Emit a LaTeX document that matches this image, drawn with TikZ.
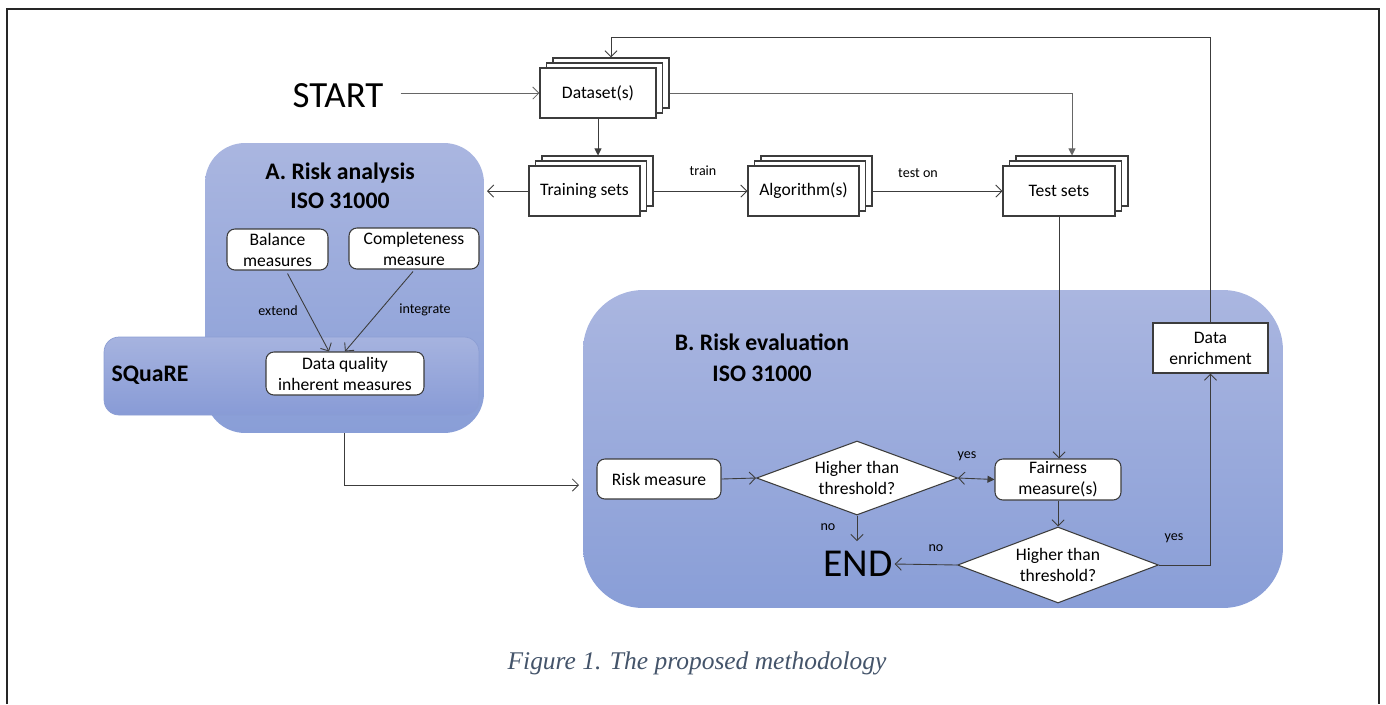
\documentclass[tikz,border=0pt]{standalone}
\usepackage{fontspec}
\setmainfont{Carlito}
\newfontfamily\capfont{Liberation Serif}
\usetikzlibrary{arrows.meta,shapes.geometric,calc}
\definecolor{regtop}{RGB}{170,182,224}
\definecolor{regbot}{RGB}{137,158,215}
\definecolor{sqtop}{RGB}{166,179,223}
\definecolor{sqbot}{RGB}{136,155,214}
\definecolor{capcol}{RGB}{68,84,106}
\definecolor{linecol}{RGB}{60,60,60}
\pgfdeclarelayer{bg}
\pgfdeclarelayer{edges}
\pgfsetlayers{bg,edges,main}
\tikzset{
  txt/.style={font=\fontsize{10}{12}\selectfont, align=center},
  sbox/.style={draw=linecol, fill=white, line width=0.6pt, minimum height=1cm, inner sep=0pt, txt},
  rbox/.style={sbox, rounded corners=4.5pt, minimum height=0.82cm},
  dia/.style={diamond, aspect=2.7, draw=linecol, fill=white, line width=0.6pt, inner sep=0pt, txt, minimum width=4.02cm, minimum height=1.5cm},
  region/.style={top color=regtop, bottom color=regbot, draw=none, inner sep=0pt},
  arr/.style={-{Straight Barb[length=3.5pt,width=7pt]}, line width=0.5pt, linecol},
  farr/.style={-{Triangle[length=4pt,width=4pt]}, line width=0.5pt, linecol},
  lbl/.style={font=\fontsize{8}{10}\selectfont, inner sep=1pt},
  head/.style={font=\bfseries\fontsize{13.5}{16.5}\selectfont, align=center},
  big/.style={font=\fontsize{21}{24}\selectfont, inner sep=1pt},
}
\newcommand\stackbox[5]{%
  \node[sbox,minimum width=#4,xshift=0.26cm,yshift=0.2cm] (#1c) at (#2,#3) {};
  \node[sbox,minimum width=#4,xshift=0.13cm,yshift=0.1cm] (#1b) at (#2,#3) {};
  \node[sbox,minimum width=#4] (#1) at (#2,#3) {#5};}
\begin{document}
\begin{tikzpicture}[x=0.02cm,y=-0.02cm]
\useasboundingbox (0,0) rectangle (1386,704);
\draw[line width=1.1pt, black!85] (7,704) -- (7,9) -- (1379,9) -- (1379,704);

% regions
\begin{pgfonlayer}{bg}
\node[region, rounded corners=0.8cm, minimum width=5.58cm, minimum height=5.8cm] (ra) at (344.5,288) {};
\node[region, top color=sqtop, bottom color=sqbot, draw={rgb,255:red,140;green,158;blue,212}, line width=0.4pt, rounded corners=0.3cm, minimum width=7.5cm, minimum height=1.56cm] (sq) at (291.5,376) {};
\node[region, rounded corners=1.2cm, minimum width=14cm, minimum height=6.36cm] (re) at (933,449) {};
\end{pgfonlayer}

\node[head] (ratitle) at (340,186) {A. Risk analysis\\ISO 31000};
\node[head] (sqtitle) at (150,375) {SQuaRE};
\node[head, font=\bfseries\fontsize{13.5}{17.5}\selectfont] (retitle) at (762,358) {B. Risk evaluation\\ISO 31000};

\node[big] (start) at (338,96) {START};
\node[big, font=\fontsize{22.5}{26}\selectfont] (end) at (858,564) {END};

\stackbox{ds}{598}{93}{2.32cm}{Dataset(s)}
\stackbox{tr}{584.5}{191}{2.22cm}{Training sets}
\stackbox{al}{803.5}{191}{2.22cm}{Algorithm(s)}
\stackbox{ts}{1059}{191}{2.24cm}{Test sets}

\node[rbox, minimum width=2.02cm] (bal) at (277.5,249.5) {Balance\\measures};
\node[rbox, minimum width=2.6cm] (comp) at (414,248.5) {Completeness\\measure};
\node[rbox, minimum width=3.16cm, minimum height=0.86cm] (dq) at (345,373.5) {Data quality\\inherent measures};

\node[sbox, minimum width=2.3cm] (de) at (1210.5,348) {Data\\enrichment};
\node[rbox, minimum width=2.52cm] (fm) at (1058,479.5) {Fairness\\measure(s)};
\node[rbox, minimum width=2.48cm, minimum height=0.8cm] (rm) at (659,479) {Risk measure};
\node[dia, minimum height=1.48cm] (d1) at (857,478) {Higher than\\threshold?};
\node[dia, minimum height=1.52cm] (d2) at (1058,565) {Higher than\\threshold?};

\coordinate (fb) at (1210.5,37);
\coordinate (raIn) at (487,191);
\coordinate (reIn) at (579,485);
\coordinate (no1) at (857,541);

\begin{pgfonlayer}{edges}
\draw[arr, draw=black!60] ([xshift=0.3cm]start.east |- ds.west) -- (ds.west);
\draw[farr] (ds.south) -- (ds.south |- trc.north);
\draw[farr, draw=black!60] (ds.east) -| (tsc.north);
\draw[arr] (de.north) -- (fb) -| (dsc.north);
\draw[arr] (tr.west) -- (raIn);
\draw[arr] (tr.east) -- (al.west);
\draw[arr] (al.east) -- (ts.west);
\draw[arr] (ts.south) -- (ts.south |- fm.north);
\draw[arr] (bal.south) ++(10,3) -- ([xshift=-0.32cm]dq.north);
\draw[arr] ([xshift=-0.02cm]comp.south) ++(0,2) -- (dq.north);
\draw[arr] (ra.south) |- (reIn);
\draw[arr] (rm.east) -- (d1.west);
\draw[{Straight Barb[length=3.5pt,width=7pt]}-{Triangle[length=4pt,width=4pt]}, line width=0.5pt, linecol] (d1.east) -- (fm.west);
\draw[arr] (d1.south) -- (no1);
\draw[arr] (fm.south) -- (d2.north);
\draw[arr] (d2.west) -- (end.east);
\draw[arr] (d2.east) -| (de.south);
\end{pgfonlayer}

\node[lbl] (ltrain) at (703,171) {train};
\node[lbl] (ltest) at (918,173) {test on};
\node[lbl] (lext) at (278,311) {extend};
\node[lbl] (lint) at (425,310) {integrate};
\node[lbl] (lyes1) at (967,456) {yes};
\node[lbl] (lno1) at (828,527) {no};
\node[lbl] (lno2) at (936,548) {no};
\node[lbl] (lyes2) at (1174,538) {yes};

\node[font=\capfont\itshape\fontsize{14.5}{17}\selectfont, text=capcol] (cap) at (697,663) {Figure 1. The proposed methodology};
\end{tikzpicture}
\end{document}
